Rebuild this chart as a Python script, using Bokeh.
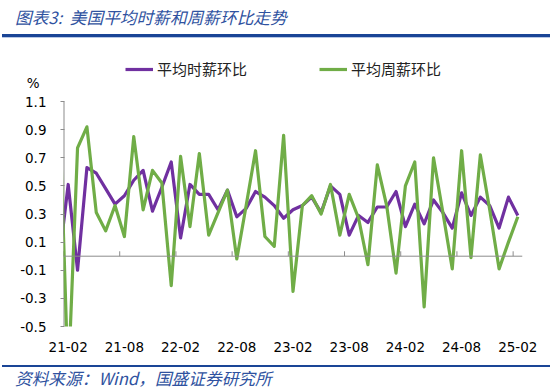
import pandas as pd
from bokeh.plotting import figure
from bokeh.layouts import column
from bokeh.models import (FixedTicker, Legend, LegendItem, Span, Div,
                          ColumnDataSource)
from bokeh.embed import file_html
from bokeh.resources import INLINE

# ---- data ----
months = [p.strftime("%y-%m") for p in pd.period_range("2021-01", "2025-02", freq="M")]
hourly_mom = [-0.05, 0.51, -0.10, 0.63, 0.59, 0.48, 0.37, 0.43, 0.54, 0.61,
              0.32, 0.49, 0.67, 0.13, 0.51, 0.44, 0.44, 0.33, 0.47, 0.28,
              0.34, 0.46, 0.42, 0.36, 0.27, 0.33, 0.36, 0.42, 0.31, 0.50,
              0.44, 0.15, 0.29, 0.24, 0.35, 0.35, 0.46, 0.21, 0.37, 0.23,
              0.40, 0.31, 0.20, 0.45, 0.29, 0.42, 0.36, 0.20, 0.42, 0.29]
weekly_mom = [1.20, -0.90, 0.77, 0.92, 0.31, 0.18, 0.36, 0.14, 0.85, 0.33,
              0.61, 0.52, -0.21, 0.71, 0.21, 0.73, 0.15, 0.31, 0.47, -0.02,
              0.36, 0.75, 0.14, 0.07, 0.86, -0.25, 0.36, 0.43, 0.30, 0.51,
              0.15, 0.44, 0.27, -0.06, 0.65, 0.36, -0.12, 0.50, 0.67, -0.36,
              0.70, 0.31, -0.09, 0.75, -0.01, 0.72, 0.33, -0.09, 0.10, 0.28]
x_tick_labels = ["21-02", "21-08", "22-02", "22-08", "23-02", "23-08",
                 "24-02", "24-08", "25-02"]
y_ticks = [-0.5, -0.3, -0.1, 0.1, 0.3, 0.5, 0.7, 0.9, 1.1]
series_names = ["平均时薪环比", "平均周薪环比"]
unit_label = "%"
title_text = "图表3:&nbsp; 美国平均时薪和周薪环比走势"
source_text = "资料来源：Wind，国盛证券研究所"

idx = list(range(len(months)))
src = ColumnDataSource(dict(x=idx, hourly=hourly_mom, weekly=weekly_mom))
label_idx = [months.index(l) for l in x_tick_labels]

PURPLE = "#7030A0"
GREEN = "#70AD47"
AXIS = "#8C8C8C"
BLUE_TXT = "#2F52A0"
BLUE_LINE = "#1A4596"

W = 550
Y_TOP = 1.413      # frame extends above the top tick to hold legend and unit
UNIT_POS = 1.235   # where the unit sign sits on the value scale

header = Div(width=W, height=38, margin=0, text=f"""
<div style="position:relative;width:{W}px;height:38px;overflow:hidden;">
 <div style="position:absolute;left:15px;top:7px;height:20px;line-height:20px;
   font-family:'Noto Sans CJK SC';font-style:italic;font-size:16.7px;
   color:{BLUE_TXT};white-space:nowrap;">{title_text}</div>
 <div style="position:absolute;left:2px;top:33.5px;width:{W-2}px;height:3px;background:{BLUE_LINE};"></div>
 <div style="position:absolute;left:2px;top:36.5px;width:{W-2}px;height:1px;background:#B8C8E6;"></div>
</div>""")

p = figure(width=W, height=321, x_range=(0.5, len(months) - 0.5),
           y_range=(y_ticks[0], Y_TOP), output_backend="svg",
           toolbar_location=None, min_border_left=63, min_border_right=28,
           min_border_top=19, min_border_bottom=33)
p.outline_line_color = None
p.xgrid.visible = False
p.ygrid.visible = False
p.background_fill_color = "white"
p.border_fill_color = "white"

# y axis: labels + small ticks, unit sign as a label above the top tick
p.yaxis.ticker = FixedTicker(ticks=y_ticks + [UNIT_POS], minor_ticks=y_ticks)
overrides = {t: f"{t:.1f}" for t in y_ticks}
overrides[UNIT_POS] = unit_label + "\u00a0\u2009"
p.yaxis.major_label_overrides = overrides
p.yaxis.axis_line_color = None
p.yaxis.major_tick_line_color = None
p.yaxis.major_tick_out = 3
p.yaxis.major_tick_in = 0
p.yaxis.minor_tick_line_color = AXIS
p.yaxis.minor_tick_out = 3
p.yaxis.minor_tick_in = 1
p.yaxis.major_label_standoff = 14
p.yaxis.major_label_text_font = "DejaVu Sans"
p.yaxis.major_label_text_font_size = "13.5px"
p.yaxis.major_label_text_color = "black"
# visible axis spine only over the tick span
p.segment(x0=[p.x_range.start], y0=[y_ticks[0]], x1=[p.x_range.start],
          y1=[y_ticks[-1]], line_color=AXIS, line_width=2)

# x axis: labels only at the bottom
p.xaxis.ticker = FixedTicker(ticks=label_idx)
p.xaxis.major_label_overrides = {i: l for i, l in zip(label_idx, x_tick_labels)}
p.xaxis.axis_line_color = None
p.xaxis.major_tick_line_color = None
p.xaxis.minor_tick_line_color = None
p.xaxis.major_tick_out = 0
p.xaxis.major_label_standoff = 15
p.xaxis.major_label_text_font = "DejaVu Sans"
p.xaxis.major_label_text_font_size = "13.5px"
p.xaxis.major_label_text_color = "black"

# zero line with category-boundary tick marks
p.add_layout(Span(location=0, dimension="width", line_color=AXIS, line_width=1))
tick_x = [i - 0.5 for i in label_idx]
p.segment(x0=tick_x, y0=[0] * len(tick_x), x1=tick_x, y1=[0.035] * len(tick_x),
          line_color=AXIS, line_width=1)

r1 = p.line("x", "hourly", source=src, line_color=PURPLE, line_width=3.2,
            line_join="round")
r2 = p.line("x", "weekly", source=src, line_color=GREEN, line_width=3.2,
            line_join="round")

legend = Legend(items=[LegendItem(label=series_names[0], renderers=[r1]),
                       LegendItem(label=series_names[1], renderers=[r2])],
                orientation="horizontal", location=(62, 247),
                border_line_alpha=0, background_fill_alpha=0,
                padding=0, margin=0, spacing=72, glyph_width=28,
                glyph_height=20, label_height=20, label_standoff=4,
                label_text_font="Noto Sans CJK SC", label_text_font_size="15px",
                label_text_color="#222222")
p.add_layout(legend)

footer = Div(width=W, height=32, margin=0, text=f"""
<div style="position:relative;width:{W}px;height:32px;overflow:hidden;">
 <div style="position:absolute;left:2px;top:5.7px;width:{W-2}px;height:2px;background:{BLUE_LINE};"></div>
 <div style="position:absolute;left:15px;top:9px;height:20px;line-height:20px;
   font-family:'Noto Sans CJK SC';font-style:italic;font-size:16.7px;
   color:{BLUE_TXT};white-space:nowrap;">{source_text}</div>
</div>""")

layout = column(header, p, footer, spacing=0)
open("out.html", "w").write(file_html(layout, INLINE))
